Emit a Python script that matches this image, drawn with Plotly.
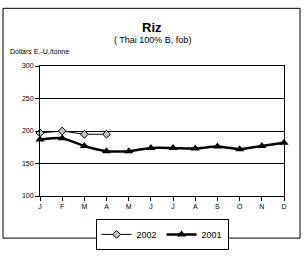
import plotly.graph_objects as go

months = ["J", "F", "M", "A", "M", "J", "J", "A", "S", "O", "N", "D"]
rice_2002 = [197, 200, 195, 195]
rice_2001 = [187, 189, 177, 169, 169, 174, 174, 173, 176, 172, 177, 182]
y_ticks = [100, 150, 200, 250, 300]

x_idx = list(range(len(months)))

fig = go.Figure()
fig.add_trace(go.Scatter(
    x=x_idx[:len(rice_2002)], y=rice_2002, name="2002", mode="lines+markers",
    line=dict(color="black", width=1),
    marker=dict(symbol="diamond", size=6, color="#c0c0c0", line=dict(color="black", width=1)),
    cliponaxis=False,
))
fig.add_trace(go.Scatter(
    x=x_idx, y=rice_2001, name="2001", mode="lines+markers",
    line=dict(color="black", width=2.5, shape="spline", smoothing=0.5),
    marker=dict(symbol="triangle-up", size=8, color="black"),
    cliponaxis=False,
))

W, H = 304, 262
L, R, T, B = 40, 20, 66, 54
pw, ph = W - L - R, H - T - B

def px(x):
    return (x - L) / pw

def py(y):
    return (H - B - y) / ph

fig.update_layout(
    width=W, height=H,
    margin=dict(l=L, r=R, t=T, b=B),
    paper_bgcolor="white", plot_bgcolor="white",
    font=dict(family="Liberation Sans, Arial", color="black", size=7),
    showlegend=True,
    legend=dict(
        orientation="h", x=0.5, xanchor="center", y=py(233), yanchor="top",
        bordercolor="black", borderwidth=1, font=dict(size=9),
        itemwidth=30, tracegroupgap=0,
    ),
    xaxis=dict(
        range=[0, 11], tickvals=x_idx, ticktext=months, showgrid=False,
        showline=True, linecolor="black", linewidth=1, mirror=True,
        ticks="outside", ticklen=4, tickcolor="black", zeroline=False,
        fixedrange=True, tickfont=dict(color="black", size=7),
    ),
    yaxis=dict(
        range=[100, 300], tickvals=y_ticks, showgrid=True, gridcolor="black",
        gridwidth=1, showline=True, linecolor="black", linewidth=1, mirror=True,
        ticks="outside", ticklen=4, tickcolor="black", zeroline=False,
        fixedrange=True, tickfont=dict(color="black", size=7),
    ),
    shapes=[dict(
        type="rect", xref="paper", yref="paper",
        x0=px(3), x1=px(300), y0=py(254), y1=py(3),
        line=dict(color="black", width=1), fillcolor="rgba(0,0,0,0)",
    )],
    annotations=[
        dict(text="<b>Riz</b>", xref="paper", yref="paper", x=px(152), y=py(24),
             showarrow=False, font=dict(size=13), xanchor="center", yanchor="middle"),
        dict(text="( Thai 100% B, fob)", xref="paper", yref="paper", x=px(152), y=py(38),
             showarrow=False, font=dict(size=9), xanchor="center", yanchor="middle"),
        dict(text="Dollars E.-U./tonne", xref="paper", yref="paper", x=px(8), y=py(50),
             showarrow=False, font=dict(size=7), xanchor="left", yanchor="middle"),
    ],
)

fig.write_html("out.html")
